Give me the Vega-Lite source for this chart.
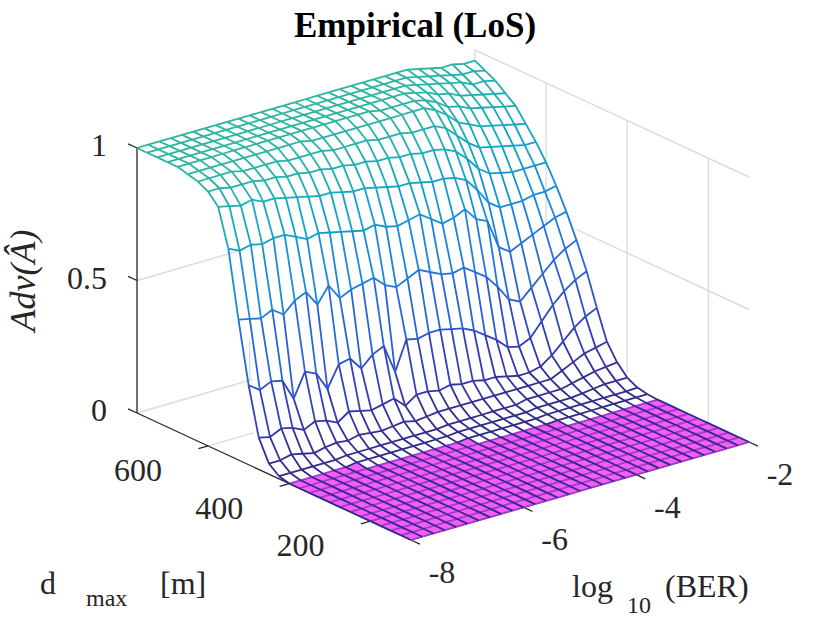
{
  "$schema": "https://vega.github.io/schema/vega-lite/v6.json",
  "width": 830,
  "height": 622,
  "autosize": {"type": "none"},
  "padding": 0,
  "background": "white",
  "config": {"view": {"stroke": null}},
  "datasets": {
    "box": [
      {"g": "grid", "ber": -2, "d": 100, "adv": 1, "ber2": -2, "d2": 775, "adv2": 1},
      {"g": "grid", "ber": -2, "d": 100, "adv": 0.5, "ber2": -2, "d2": 524, "adv2": 0.5},
      {"g": "grid", "ber": -2, "d": 200, "adv": 0, "ber2": -2, "d2": 200, "adv2": 1},
      {"g": "grid", "ber": -2, "d": 400, "adv": 0.05, "ber2": -2, "d2": 400, "adv2": 1},
      {"g": "grid", "ber": -2, "d": 600, "adv": 0.46, "ber2": -2, "d2": 600, "adv2": 1},
      {"g": "grid", "ber": -2, "d": 775, "adv": 0.95, "ber2": -2, "d2": 775, "adv2": 1},
      {"g": "grid", "ber": -8, "d": 775, "adv": 0, "ber2": -5.95, "d2": 775, "adv2": 0},
      {"g": "grid", "ber": -8, "d": 775, "adv": 0.5, "ber2": -6.2, "d2": 775, "adv2": 0.5},
      {"g": "grid", "ber": -6, "d": 775, "adv": 0, "ber2": -6, "d2": 775, "adv2": 0.15},
      {"g": "grid", "ber": -8, "d": 600, "adv": 0, "ber2": -7.2, "d2": 600, "adv2": 0},
      {"g": "axis", "ber": -8, "d": 775, "adv": 0, "ber2": -8, "d2": 775, "adv2": 1},
      {"g": "axis", "ber": -8, "d": 100, "adv": 0, "ber2": -8, "d2": 775, "adv2": 0},
      {"g": "axis", "ber": -8, "d": 100, "adv": 0, "ber2": -2, "d2": 100, "adv2": 0},
      {"g": "axis", "ber": -8, "d": 775, "adv": 0, "ber2": -8, "d2": 797, "adv2": 0},
      {"g": "axis", "ber": -8, "d": 775, "adv": 0.5, "ber2": -8, "d2": 797, "adv2": 0.5},
      {"g": "axis", "ber": -8, "d": 775, "adv": 1, "ber2": -8, "d2": 797, "adv2": 1},
      {"g": "axis", "ber": -8, "d": 200, "adv": 0, "ber2": -8.17, "d2": 200, "adv2": 0},
      {"g": "axis", "ber": -8, "d": 400, "adv": 0, "ber2": -8.17, "d2": 400, "adv2": 0},
      {"g": "axis", "ber": -8, "d": 600, "adv": 0, "ber2": -8.17, "d2": 600, "adv2": 0},
      {"g": "axis", "ber": -8, "d": 100, "adv": 0, "ber2": -8, "d2": 78, "adv2": 0},
      {"g": "axis", "ber": -6, "d": 100, "adv": 0, "ber2": -6, "d2": 78, "adv2": 0},
      {"g": "axis", "ber": -4, "d": 100, "adv": 0, "ber2": -4, "d2": 78, "adv2": 0},
      {"g": "axis", "ber": -2, "d": 100, "adv": 0, "ber2": -2, "d2": 78, "adv2": 0}
    ],
    "labels": [
      {"g": "zt", "t": "0", "ber": -8, "d": 775, "adv": 0},
      {"g": "zt", "t": "0.5", "ber": -8, "d": 775, "adv": 0.5},
      {"g": "zt", "t": "1", "ber": -8, "d": 775, "adv": 1},
      {"g": "dt", "t": "200", "ber": -8, "d": 200, "adv": 0},
      {"g": "dt", "t": "400", "ber": -8, "d": 400, "adv": 0},
      {"g": "dt", "t": "600", "ber": -8, "d": 600, "adv": 0},
      {"g": "bt", "t": "-8", "ber": -8, "d": 100, "adv": 0},
      {"g": "bt", "t": "-6", "ber": -6, "d": 100, "adv": 0},
      {"g": "bt", "t": "-4", "ber": -4, "d": 100, "adv": 0},
      {"g": "bt", "t": "-2", "ber": -2, "d": 100, "adv": 0},
      {"g": "dT", "t": "d", "ber": -8, "d": 437.5, "adv": 0},
      {"g": "dS", "t": "max", "ber": -8, "d": 437.5, "adv": 0},
      {"g": "dU", "t": "[m]", "ber": -8, "d": 437.5, "adv": 0},
      {"g": "bT", "t": "log", "ber": -5, "d": 100, "adv": 0},
      {"g": "bS", "t": "10", "ber": -5, "d": 100, "adv": 0},
      {"g": "bU", "t": "(BER)", "ber": -5, "d": 100, "adv": 0},
      {"g": "zT", "t": "Adv(Â)", "ber": -8, "d": 775, "adv": 0.5},
      {"g": "title", "t": "Empirical (LoS)", "ber": -8, "d": 775, "adv": 1}
    ],
    "grid": [
      {"ber":-8,"d":100,"adv":0},{"ber":-8,"d":125,"adv":0},{"ber":-8,"d":150,"adv":0},{"ber":-8,"d":175,"adv":0},{"ber":-8,"d":200,"adv":0},{"ber":-8,"d":225,"adv":0},{"ber":-8,"d":250,"adv":0},{"ber":-8,"d":275,"adv":0},{"ber":-8,"d":300,"adv":0},{"ber":-8,"d":325,"adv":0},
      {"ber":-8,"d":350,"adv":0},{"ber":-8,"d":375,"adv":0},{"ber":-8,"d":400,"adv":0},{"ber":-8,"d":425,"adv":0.01},{"ber":-8,"d":450,"adv":0.04},{"ber":-8,"d":475,"adv":0.12},{"ber":-8,"d":500,"adv":0.3},{"ber":-8,"d":525,"adv":0.53},{"ber":-8,"d":550,"adv":0.78},{"ber":-8,"d":575,"adv":0.92},{"ber":-8,"d":600,"adv":0.96},{"ber":-8,"d":625,"adv":0.98},{"ber":-8,"d":650,"adv":0.99},{"ber":-8,"d":675,"adv":1},{"ber":-8,"d":700,"adv":1},{"ber":-8,"d":725,"adv":1},{"ber":-8,"d":750,"adv":1},{"ber":-8,"d":775,"adv":1},
      {"ber":-7.8,"d":100,"adv":0},{"ber":-7.8,"d":125,"adv":0},{"ber":-7.8,"d":150,"adv":0},{"ber":-7.8,"d":175,"adv":0},{"ber":-7.8,"d":200,"adv":0},{"ber":-7.8,"d":225,"adv":0},{"ber":-7.8,"d":250,"adv":0},{"ber":-7.8,"d":275,"adv":0},{"ber":-7.8,"d":300,"adv":0},{"ber":-7.8,"d":325,"adv":0},
      {"ber":-7.8,"d":350,"adv":0},{"ber":-7.8,"d":375,"adv":0},{"ber":-7.8,"d":400,"adv":0},{"ber":-7.8,"d":425,"adv":0.01},{"ber":-7.8,"d":450,"adv":0.04},{"ber":-7.8,"d":475,"adv":0.11},{"ber":-7.8,"d":500,"adv":0.27},{"ber":-7.8,"d":525,"adv":0.52},{"ber":-7.8,"d":550,"adv":0.76},{"ber":-7.8,"d":575,"adv":0.91},{"ber":-7.8,"d":600,"adv":0.96},{"ber":-7.8,"d":625,"adv":0.98},{"ber":-7.8,"d":650,"adv":0.99},{"ber":-7.8,"d":675,"adv":1},{"ber":-7.8,"d":700,"adv":1},{"ber":-7.8,"d":725,"adv":1},{"ber":-7.8,"d":750,"adv":1},{"ber":-7.8,"d":775,"adv":1},
      {"ber":-7.6,"d":100,"adv":0},{"ber":-7.6,"d":125,"adv":0},{"ber":-7.6,"d":150,"adv":0},{"ber":-7.6,"d":175,"adv":0},{"ber":-7.6,"d":200,"adv":0},{"ber":-7.6,"d":225,"adv":0},{"ber":-7.6,"d":250,"adv":0},{"ber":-7.6,"d":275,"adv":0},{"ber":-7.6,"d":300,"adv":0},{"ber":-7.6,"d":325,"adv":0},
      {"ber":-7.6,"d":350,"adv":0},{"ber":-7.6,"d":375,"adv":0},{"ber":-7.6,"d":400,"adv":0},{"ber":-7.6,"d":425,"adv":0.01},{"ber":-7.6,"d":450,"adv":0.05},{"ber":-7.6,"d":475,"adv":0.13},{"ber":-7.6,"d":500,"adv":0.29},{"ber":-7.6,"d":525,"adv":0.51},{"ber":-7.6,"d":550,"adv":0.77},{"ber":-7.6,"d":575,"adv":0.9},{"ber":-7.6,"d":600,"adv":0.95},{"ber":-7.6,"d":625,"adv":0.98},{"ber":-7.6,"d":650,"adv":0.99},{"ber":-7.6,"d":675,"adv":1},{"ber":-7.6,"d":700,"adv":1},{"ber":-7.6,"d":725,"adv":1},{"ber":-7.6,"d":750,"adv":1},{"ber":-7.6,"d":775,"adv":1},
      {"ber":-7.4,"d":100,"adv":0},{"ber":-7.4,"d":125,"adv":0},{"ber":-7.4,"d":150,"adv":0},{"ber":-7.4,"d":175,"adv":0},{"ber":-7.4,"d":200,"adv":0},{"ber":-7.4,"d":225,"adv":0},{"ber":-7.4,"d":250,"adv":0},{"ber":-7.4,"d":275,"adv":0},{"ber":-7.4,"d":300,"adv":0},{"ber":-7.4,"d":325,"adv":0},
      {"ber":-7.4,"d":350,"adv":0},{"ber":-7.4,"d":375,"adv":0},{"ber":-7.4,"d":400,"adv":0},{"ber":-7.4,"d":425,"adv":0.01},{"ber":-7.4,"d":450,"adv":0.04},{"ber":-7.4,"d":475,"adv":0.12},{"ber":-7.4,"d":500,"adv":0.28},{"ber":-7.4,"d":525,"adv":0.53},{"ber":-7.4,"d":550,"adv":0.76},{"ber":-7.4,"d":575,"adv":0.91},{"ber":-7.4,"d":600,"adv":0.95},{"ber":-7.4,"d":625,"adv":0.98},{"ber":-7.4,"d":650,"adv":0.99},{"ber":-7.4,"d":675,"adv":1},{"ber":-7.4,"d":700,"adv":1},{"ber":-7.4,"d":725,"adv":1},{"ber":-7.4,"d":750,"adv":1},{"ber":-7.4,"d":775,"adv":1},
      {"ber":-7.2,"d":100,"adv":0},{"ber":-7.2,"d":125,"adv":0},{"ber":-7.2,"d":150,"adv":0},{"ber":-7.2,"d":175,"adv":0},{"ber":-7.2,"d":200,"adv":0},{"ber":-7.2,"d":225,"adv":0},{"ber":-7.2,"d":250,"adv":0},{"ber":-7.2,"d":275,"adv":0},{"ber":-7.2,"d":300,"adv":0},{"ber":-7.2,"d":325,"adv":0},
      {"ber":-7.2,"d":350,"adv":0},{"ber":-7.2,"d":375,"adv":0},{"ber":-7.2,"d":400,"adv":0},{"ber":-7.2,"d":425,"adv":0.01},{"ber":-7.2,"d":450,"adv":0.03},{"ber":-7.2,"d":475,"adv":0.1},{"ber":-7.2,"d":500,"adv":0.2},{"ber":-7.2,"d":525,"adv":0.5},{"ber":-7.2,"d":550,"adv":0.77},{"ber":-7.2,"d":575,"adv":0.89},{"ber":-7.2,"d":600,"adv":0.95},{"ber":-7.2,"d":625,"adv":0.97},{"ber":-7.2,"d":650,"adv":0.99},{"ber":-7.2,"d":675,"adv":1},{"ber":-7.2,"d":700,"adv":1},{"ber":-7.2,"d":725,"adv":1},{"ber":-7.2,"d":750,"adv":1},{"ber":-7.2,"d":775,"adv":1},
      {"ber":-7,"d":100,"adv":0},{"ber":-7,"d":125,"adv":0},{"ber":-7,"d":150,"adv":0},{"ber":-7,"d":175,"adv":0},{"ber":-7,"d":200,"adv":0},{"ber":-7,"d":225,"adv":0},{"ber":-7,"d":250,"adv":0},{"ber":-7,"d":275,"adv":0},{"ber":-7,"d":300,"adv":0},{"ber":-7,"d":325,"adv":0},
      {"ber":-7,"d":350,"adv":0},{"ber":-7,"d":375,"adv":0},{"ber":-7,"d":400,"adv":0},{"ber":-7,"d":425,"adv":0.01},{"ber":-7,"d":450,"adv":0.04},{"ber":-7,"d":475,"adv":0.12},{"ber":-7,"d":500,"adv":0.29},{"ber":-7,"d":525,"adv":0.54},{"ber":-7,"d":550,"adv":0.77},{"ber":-7,"d":575,"adv":0.89},{"ber":-7,"d":600,"adv":0.94},{"ber":-7,"d":625,"adv":0.97},{"ber":-7,"d":650,"adv":0.99},{"ber":-7,"d":675,"adv":1},{"ber":-7,"d":700,"adv":1},{"ber":-7,"d":725,"adv":1},{"ber":-7,"d":750,"adv":1},{"ber":-7,"d":775,"adv":1},
      {"ber":-6.8,"d":100,"adv":0},{"ber":-6.8,"d":125,"adv":0},{"ber":-6.8,"d":150,"adv":0},{"ber":-6.8,"d":175,"adv":0},{"ber":-6.8,"d":200,"adv":0},{"ber":-6.8,"d":225,"adv":0},{"ber":-6.8,"d":250,"adv":0},{"ber":-6.8,"d":275,"adv":0},{"ber":-6.8,"d":300,"adv":0},{"ber":-6.8,"d":325,"adv":0},
      {"ber":-6.8,"d":350,"adv":0},{"ber":-6.8,"d":375,"adv":0},{"ber":-6.8,"d":400,"adv":0.006},{"ber":-6.8,"d":425,"adv":0.015},{"ber":-6.8,"d":450,"adv":0.045},{"ber":-6.8,"d":475,"adv":0.11},{"ber":-6.8,"d":500,"adv":0.27},{"ber":-6.8,"d":525,"adv":0.56},{"ber":-6.8,"d":550,"adv":0.75},{"ber":-6.8,"d":575,"adv":0.88},{"ber":-6.8,"d":600,"adv":0.94},{"ber":-6.8,"d":625,"adv":0.97},{"ber":-6.8,"d":650,"adv":0.99},{"ber":-6.8,"d":675,"adv":1},{"ber":-6.8,"d":700,"adv":1},{"ber":-6.8,"d":725,"adv":1},{"ber":-6.8,"d":750,"adv":1},{"ber":-6.8,"d":775,"adv":1},
      {"ber":-6.6,"d":100,"adv":0},{"ber":-6.6,"d":125,"adv":0},{"ber":-6.6,"d":150,"adv":0},{"ber":-6.6,"d":175,"adv":0},{"ber":-6.6,"d":200,"adv":0},{"ber":-6.6,"d":225,"adv":0},{"ber":-6.6,"d":250,"adv":0},{"ber":-6.6,"d":275,"adv":0},{"ber":-6.6,"d":300,"adv":0},{"ber":-6.6,"d":325,"adv":0},
      {"ber":-6.6,"d":350,"adv":0},{"ber":-6.6,"d":375,"adv":0},{"ber":-6.6,"d":400,"adv":0.006},{"ber":-6.6,"d":425,"adv":0.015},{"ber":-6.6,"d":450,"adv":0.04},{"ber":-6.6,"d":475,"adv":0.09},{"ber":-6.6,"d":500,"adv":0.2},{"ber":-6.6,"d":525,"adv":0.5},{"ber":-6.6,"d":550,"adv":0.73},{"ber":-6.6,"d":575,"adv":0.87},{"ber":-6.6,"d":600,"adv":0.93},{"ber":-6.6,"d":625,"adv":0.97},{"ber":-6.6,"d":650,"adv":0.99},{"ber":-6.6,"d":675,"adv":1},{"ber":-6.6,"d":700,"adv":1},{"ber":-6.6,"d":725,"adv":1},{"ber":-6.6,"d":750,"adv":1},{"ber":-6.6,"d":775,"adv":1},
      {"ber":-6.4,"d":100,"adv":0},{"ber":-6.4,"d":125,"adv":0},{"ber":-6.4,"d":150,"adv":0},{"ber":-6.4,"d":175,"adv":0},{"ber":-6.4,"d":200,"adv":0},{"ber":-6.4,"d":225,"adv":0},{"ber":-6.4,"d":250,"adv":0},{"ber":-6.4,"d":275,"adv":0},{"ber":-6.4,"d":300,"adv":0},{"ber":-6.4,"d":325,"adv":0},
      {"ber":-6.4,"d":350,"adv":0},{"ber":-6.4,"d":375,"adv":0},{"ber":-6.4,"d":400,"adv":0.006},{"ber":-6.4,"d":425,"adv":0.015},{"ber":-6.4,"d":450,"adv":0.05},{"ber":-6.4,"d":475,"adv":0.12},{"ber":-6.4,"d":500,"adv":0.28},{"ber":-6.4,"d":525,"adv":0.56},{"ber":-6.4,"d":550,"adv":0.74},{"ber":-6.4,"d":575,"adv":0.86},{"ber":-6.4,"d":600,"adv":0.93},{"ber":-6.4,"d":625,"adv":0.96},{"ber":-6.4,"d":650,"adv":0.99},{"ber":-6.4,"d":675,"adv":1},{"ber":-6.4,"d":700,"adv":1},{"ber":-6.4,"d":725,"adv":1},{"ber":-6.4,"d":750,"adv":1},{"ber":-6.4,"d":775,"adv":1},
      {"ber":-6.2,"d":100,"adv":0},{"ber":-6.2,"d":125,"adv":0},{"ber":-6.2,"d":150,"adv":0},{"ber":-6.2,"d":175,"adv":0},{"ber":-6.2,"d":200,"adv":0},{"ber":-6.2,"d":225,"adv":0},{"ber":-6.2,"d":250,"adv":0},{"ber":-6.2,"d":275,"adv":0},{"ber":-6.2,"d":300,"adv":0},{"ber":-6.2,"d":325,"adv":0},
      {"ber":-6.2,"d":350,"adv":0},{"ber":-6.2,"d":375,"adv":0},{"ber":-6.2,"d":400,"adv":0.006},{"ber":-6.2,"d":425,"adv":0.015},{"ber":-6.2,"d":450,"adv":0.045},{"ber":-6.2,"d":475,"adv":0.11},{"ber":-6.2,"d":500,"adv":0.29},{"ber":-6.2,"d":525,"adv":0.5},{"ber":-6.2,"d":550,"adv":0.73},{"ber":-6.2,"d":575,"adv":0.85},{"ber":-6.2,"d":600,"adv":0.92},{"ber":-6.2,"d":625,"adv":0.96},{"ber":-6.2,"d":650,"adv":0.99},{"ber":-6.2,"d":675,"adv":1},{"ber":-6.2,"d":700,"adv":1},{"ber":-6.2,"d":725,"adv":1},{"ber":-6.2,"d":750,"adv":1},{"ber":-6.2,"d":775,"adv":1},
      {"ber":-6,"d":100,"adv":0},{"ber":-6,"d":125,"adv":0},{"ber":-6,"d":150,"adv":0},{"ber":-6,"d":175,"adv":0},{"ber":-6,"d":200,"adv":0},{"ber":-6,"d":225,"adv":0},{"ber":-6,"d":250,"adv":0},{"ber":-6,"d":275,"adv":0},{"ber":-6,"d":300,"adv":0},{"ber":-6,"d":325,"adv":0},
      {"ber":-6,"d":350,"adv":0},{"ber":-6,"d":375,"adv":0},{"ber":-6,"d":400,"adv":0.006},{"ber":-6,"d":425,"adv":0.015},{"ber":-6,"d":450,"adv":0.04},{"ber":-6,"d":475,"adv":0.1},{"ber":-6,"d":500,"adv":0.24},{"ber":-6,"d":525,"adv":0.52},{"ber":-6,"d":550,"adv":0.72},{"ber":-6,"d":575,"adv":0.85},{"ber":-6,"d":600,"adv":0.92},{"ber":-6,"d":625,"adv":0.96},{"ber":-6,"d":650,"adv":0.99},{"ber":-6,"d":675,"adv":1},{"ber":-6,"d":700,"adv":1},{"ber":-6,"d":725,"adv":1},{"ber":-6,"d":750,"adv":1},{"ber":-6,"d":775,"adv":1},
      {"ber":-5.8,"d":100,"adv":0},{"ber":-5.8,"d":125,"adv":0},{"ber":-5.8,"d":150,"adv":0},{"ber":-5.8,"d":175,"adv":0},{"ber":-5.8,"d":200,"adv":0},{"ber":-5.8,"d":225,"adv":0},{"ber":-5.8,"d":250,"adv":0},{"ber":-5.8,"d":275,"adv":0},{"ber":-5.8,"d":300,"adv":0},{"ber":-5.8,"d":325,"adv":0},
      {"ber":-5.8,"d":350,"adv":0},{"ber":-5.8,"d":375,"adv":0},{"ber":-5.8,"d":400,"adv":0.006},{"ber":-5.8,"d":425,"adv":0.015},{"ber":-5.8,"d":450,"adv":0.045},{"ber":-5.8,"d":475,"adv":0.11},{"ber":-5.8,"d":500,"adv":0.28},{"ber":-5.8,"d":525,"adv":0.53},{"ber":-5.8,"d":550,"adv":0.71},{"ber":-5.8,"d":575,"adv":0.84},{"ber":-5.8,"d":600,"adv":0.91},{"ber":-5.8,"d":625,"adv":0.96},{"ber":-5.8,"d":650,"adv":0.98},{"ber":-5.8,"d":675,"adv":1},{"ber":-5.8,"d":700,"adv":1},{"ber":-5.8,"d":725,"adv":1},{"ber":-5.8,"d":750,"adv":1},{"ber":-5.8,"d":775,"adv":1},
      {"ber":-5.6,"d":100,"adv":0},{"ber":-5.6,"d":125,"adv":0},{"ber":-5.6,"d":150,"adv":0},{"ber":-5.6,"d":175,"adv":0},{"ber":-5.6,"d":200,"adv":0},{"ber":-5.6,"d":225,"adv":0},{"ber":-5.6,"d":250,"adv":0},{"ber":-5.6,"d":275,"adv":0},{"ber":-5.6,"d":300,"adv":0},{"ber":-5.6,"d":325,"adv":0},
      {"ber":-5.6,"d":350,"adv":0},{"ber":-5.6,"d":375,"adv":0},{"ber":-5.6,"d":400,"adv":0.006},{"ber":-5.6,"d":425,"adv":0.015},{"ber":-5.6,"d":450,"adv":0.05},{"ber":-5.6,"d":475,"adv":0.12},{"ber":-5.6,"d":500,"adv":0.3},{"ber":-5.6,"d":525,"adv":0.54},{"ber":-5.6,"d":550,"adv":0.7},{"ber":-5.6,"d":575,"adv":0.83},{"ber":-5.6,"d":600,"adv":0.91},{"ber":-5.6,"d":625,"adv":0.95},{"ber":-5.6,"d":650,"adv":0.98},{"ber":-5.6,"d":675,"adv":1},{"ber":-5.6,"d":700,"adv":1},{"ber":-5.6,"d":725,"adv":1},{"ber":-5.6,"d":750,"adv":1},{"ber":-5.6,"d":775,"adv":1},
      {"ber":-5.4,"d":100,"adv":0},{"ber":-5.4,"d":125,"adv":0},{"ber":-5.4,"d":150,"adv":0},{"ber":-5.4,"d":175,"adv":0},{"ber":-5.4,"d":200,"adv":0},{"ber":-5.4,"d":225,"adv":0},{"ber":-5.4,"d":250,"adv":0},{"ber":-5.4,"d":275,"adv":0},{"ber":-5.4,"d":300,"adv":0},{"ber":-5.4,"d":325,"adv":0},
      {"ber":-5.4,"d":350,"adv":0},{"ber":-5.4,"d":375,"adv":0},{"ber":-5.4,"d":400,"adv":0.006},{"ber":-5.4,"d":425,"adv":0.015},{"ber":-5.4,"d":450,"adv":0.04},{"ber":-5.4,"d":475,"adv":0.08},{"ber":-5.4,"d":500,"adv":0.19},{"ber":-5.4,"d":525,"adv":0.5},{"ber":-5.4,"d":550,"adv":0.71},{"ber":-5.4,"d":575,"adv":0.83},{"ber":-5.4,"d":600,"adv":0.9},{"ber":-5.4,"d":625,"adv":0.95},{"ber":-5.4,"d":650,"adv":0.98},{"ber":-5.4,"d":675,"adv":1},{"ber":-5.4,"d":700,"adv":1},{"ber":-5.4,"d":725,"adv":1},{"ber":-5.4,"d":750,"adv":1},{"ber":-5.4,"d":775,"adv":1},
      {"ber":-5.2,"d":100,"adv":0},{"ber":-5.2,"d":125,"adv":0},{"ber":-5.2,"d":150,"adv":0},{"ber":-5.2,"d":175,"adv":0},{"ber":-5.2,"d":200,"adv":0},{"ber":-5.2,"d":225,"adv":0},{"ber":-5.2,"d":250,"adv":0},{"ber":-5.2,"d":275,"adv":0},{"ber":-5.2,"d":300,"adv":0},{"ber":-5.2,"d":325,"adv":0},
      {"ber":-5.2,"d":350,"adv":0},{"ber":-5.2,"d":375,"adv":0},{"ber":-5.2,"d":400,"adv":0.006},{"ber":-5.2,"d":425,"adv":0.015},{"ber":-5.2,"d":450,"adv":0.045},{"ber":-5.2,"d":475,"adv":0.11},{"ber":-5.2,"d":500,"adv":0.3},{"ber":-5.2,"d":525,"adv":0.48},{"ber":-5.2,"d":550,"adv":0.69},{"ber":-5.2,"d":575,"adv":0.82},{"ber":-5.2,"d":600,"adv":0.9},{"ber":-5.2,"d":625,"adv":0.95},{"ber":-5.2,"d":650,"adv":0.98},{"ber":-5.2,"d":675,"adv":1},{"ber":-5.2,"d":700,"adv":1},{"ber":-5.2,"d":725,"adv":1},{"ber":-5.2,"d":750,"adv":1},{"ber":-5.2,"d":775,"adv":1},
      {"ber":-5,"d":100,"adv":0},{"ber":-5,"d":125,"adv":0},{"ber":-5,"d":150,"adv":0},{"ber":-5,"d":175,"adv":0},{"ber":-5,"d":200,"adv":0},{"ber":-5,"d":225,"adv":0},{"ber":-5,"d":250,"adv":0},{"ber":-5,"d":275,"adv":0},{"ber":-5,"d":300,"adv":0},{"ber":-5,"d":325,"adv":0},
      {"ber":-5,"d":350,"adv":0},{"ber":-5,"d":375,"adv":0.004},{"ber":-5,"d":400,"adv":0.01},{"ber":-5,"d":425,"adv":0.02},{"ber":-5,"d":450,"adv":0.05},{"ber":-5,"d":475,"adv":0.11},{"ber":-5,"d":500,"adv":0.29},{"ber":-5,"d":525,"adv":0.5},{"ber":-5,"d":550,"adv":0.68},{"ber":-5,"d":575,"adv":0.81},{"ber":-5,"d":600,"adv":0.89},{"ber":-5,"d":625,"adv":0.95},{"ber":-5,"d":650,"adv":0.98},{"ber":-5,"d":675,"adv":1},{"ber":-5,"d":700,"adv":1},{"ber":-5,"d":725,"adv":1},{"ber":-5,"d":750,"adv":1},{"ber":-5,"d":775,"adv":1},
      {"ber":-4.8,"d":100,"adv":0},{"ber":-4.8,"d":125,"adv":0},{"ber":-4.8,"d":150,"adv":0},{"ber":-4.8,"d":175,"adv":0},{"ber":-4.8,"d":200,"adv":0},{"ber":-4.8,"d":225,"adv":0},{"ber":-4.8,"d":250,"adv":0},{"ber":-4.8,"d":275,"adv":0},{"ber":-4.8,"d":300,"adv":0},{"ber":-4.8,"d":325,"adv":0},
      {"ber":-4.8,"d":350,"adv":0},{"ber":-4.8,"d":375,"adv":0.004},{"ber":-4.8,"d":400,"adv":0.01},{"ber":-4.8,"d":425,"adv":0.02},{"ber":-4.8,"d":450,"adv":0.05},{"ber":-4.8,"d":475,"adv":0.1},{"ber":-4.8,"d":500,"adv":0.3},{"ber":-4.8,"d":525,"adv":0.52},{"ber":-4.8,"d":550,"adv":0.69},{"ber":-4.8,"d":575,"adv":0.8},{"ber":-4.8,"d":600,"adv":0.89},{"ber":-4.8,"d":625,"adv":0.94},{"ber":-4.8,"d":650,"adv":0.98},{"ber":-4.8,"d":675,"adv":1},{"ber":-4.8,"d":700,"adv":1},{"ber":-4.8,"d":725,"adv":1},{"ber":-4.8,"d":750,"adv":1},{"ber":-4.8,"d":775,"adv":1},
      {"ber":-4.6,"d":100,"adv":0},{"ber":-4.6,"d":125,"adv":0},{"ber":-4.6,"d":150,"adv":0},{"ber":-4.6,"d":175,"adv":0},{"ber":-4.6,"d":200,"adv":0},{"ber":-4.6,"d":225,"adv":0},{"ber":-4.6,"d":250,"adv":0},{"ber":-4.6,"d":275,"adv":0},{"ber":-4.6,"d":300,"adv":0},{"ber":-4.6,"d":325,"adv":0},
      {"ber":-4.6,"d":350,"adv":0},{"ber":-4.6,"d":375,"adv":0.004},{"ber":-4.6,"d":400,"adv":0.01},{"ber":-4.6,"d":425,"adv":0.02},{"ber":-4.6,"d":450,"adv":0.05},{"ber":-4.6,"d":475,"adv":0.11},{"ber":-4.6,"d":500,"adv":0.3},{"ber":-4.6,"d":525,"adv":0.5},{"ber":-4.6,"d":550,"adv":0.7},{"ber":-4.6,"d":575,"adv":0.8},{"ber":-4.6,"d":600,"adv":0.88},{"ber":-4.6,"d":625,"adv":0.94},{"ber":-4.6,"d":650,"adv":0.98},{"ber":-4.6,"d":675,"adv":1},{"ber":-4.6,"d":700,"adv":1},{"ber":-4.6,"d":725,"adv":1},{"ber":-4.6,"d":750,"adv":1},{"ber":-4.6,"d":775,"adv":1},
      {"ber":-4.4,"d":100,"adv":0},{"ber":-4.4,"d":125,"adv":0},{"ber":-4.4,"d":150,"adv":0},{"ber":-4.4,"d":175,"adv":0},{"ber":-4.4,"d":200,"adv":0},{"ber":-4.4,"d":225,"adv":0},{"ber":-4.4,"d":250,"adv":0},{"ber":-4.4,"d":275,"adv":0},{"ber":-4.4,"d":300,"adv":0},{"ber":-4.4,"d":325,"adv":0},
      {"ber":-4.4,"d":350,"adv":0},{"ber":-4.4,"d":375,"adv":0.004},{"ber":-4.4,"d":400,"adv":0.01},{"ber":-4.4,"d":425,"adv":0.02},{"ber":-4.4,"d":450,"adv":0.05},{"ber":-4.4,"d":475,"adv":0.1},{"ber":-4.4,"d":500,"adv":0.29},{"ber":-4.4,"d":525,"adv":0.48},{"ber":-4.4,"d":550,"adv":0.67},{"ber":-4.4,"d":575,"adv":0.79},{"ber":-4.4,"d":600,"adv":0.88},{"ber":-4.4,"d":625,"adv":0.94},{"ber":-4.4,"d":650,"adv":0.98},{"ber":-4.4,"d":675,"adv":0.99},{"ber":-4.4,"d":700,"adv":1},{"ber":-4.4,"d":725,"adv":1},{"ber":-4.4,"d":750,"adv":1},{"ber":-4.4,"d":775,"adv":1},
      {"ber":-4.2,"d":100,"adv":0},{"ber":-4.2,"d":125,"adv":0},{"ber":-4.2,"d":150,"adv":0},{"ber":-4.2,"d":175,"adv":0},{"ber":-4.2,"d":200,"adv":0},{"ber":-4.2,"d":225,"adv":0},{"ber":-4.2,"d":250,"adv":0},{"ber":-4.2,"d":275,"adv":0},{"ber":-4.2,"d":300,"adv":0},{"ber":-4.2,"d":325,"adv":0},
      {"ber":-4.2,"d":350,"adv":0},{"ber":-4.2,"d":375,"adv":0.004},{"ber":-4.2,"d":400,"adv":0.01},{"ber":-4.2,"d":425,"adv":0.02},{"ber":-4.2,"d":450,"adv":0.05},{"ber":-4.2,"d":475,"adv":0.1},{"ber":-4.2,"d":500,"adv":0.28},{"ber":-4.2,"d":525,"adv":0.47},{"ber":-4.2,"d":550,"adv":0.64},{"ber":-4.2,"d":575,"adv":0.78},{"ber":-4.2,"d":600,"adv":0.87},{"ber":-4.2,"d":625,"adv":0.93},{"ber":-4.2,"d":650,"adv":0.98},{"ber":-4.2,"d":675,"adv":0.99},{"ber":-4.2,"d":700,"adv":1},{"ber":-4.2,"d":725,"adv":1},{"ber":-4.2,"d":750,"adv":1},{"ber":-4.2,"d":775,"adv":1},
      {"ber":-4,"d":100,"adv":0},{"ber":-4,"d":125,"adv":0},{"ber":-4,"d":150,"adv":0},{"ber":-4,"d":175,"adv":0},{"ber":-4,"d":200,"adv":0},{"ber":-4,"d":225,"adv":0},{"ber":-4,"d":250,"adv":0},{"ber":-4,"d":275,"adv":0},{"ber":-4,"d":300,"adv":0},{"ber":-4,"d":325,"adv":0},
      {"ber":-4,"d":350,"adv":0},{"ber":-4,"d":375,"adv":0.004},{"ber":-4,"d":400,"adv":0.01},{"ber":-4,"d":425,"adv":0.02},{"ber":-4,"d":450,"adv":0.05},{"ber":-4,"d":475,"adv":0.09},{"ber":-4,"d":500,"adv":0.26},{"ber":-4,"d":525,"adv":0.48},{"ber":-4,"d":550,"adv":0.65},{"ber":-4,"d":575,"adv":0.78},{"ber":-4,"d":600,"adv":0.87},{"ber":-4,"d":625,"adv":0.93},{"ber":-4,"d":650,"adv":0.98},{"ber":-4,"d":675,"adv":0.99},{"ber":-4,"d":700,"adv":1},{"ber":-4,"d":725,"adv":1},{"ber":-4,"d":750,"adv":1},{"ber":-4,"d":775,"adv":1},
      {"ber":-3.8,"d":100,"adv":0},{"ber":-3.8,"d":125,"adv":0},{"ber":-3.8,"d":150,"adv":0},{"ber":-3.8,"d":175,"adv":0},{"ber":-3.8,"d":200,"adv":0},{"ber":-3.8,"d":225,"adv":0},{"ber":-3.8,"d":250,"adv":0},{"ber":-3.8,"d":275,"adv":0},{"ber":-3.8,"d":300,"adv":0},{"ber":-3.8,"d":325,"adv":0},
      {"ber":-3.8,"d":350,"adv":0},{"ber":-3.8,"d":375,"adv":0.004},{"ber":-3.8,"d":400,"adv":0.01},{"ber":-3.8,"d":425,"adv":0.02},{"ber":-3.8,"d":450,"adv":0.05},{"ber":-3.8,"d":475,"adv":0.09},{"ber":-3.8,"d":500,"adv":0.23},{"ber":-3.8,"d":525,"adv":0.45},{"ber":-3.8,"d":550,"adv":0.67},{"ber":-3.8,"d":575,"adv":0.77},{"ber":-3.8,"d":600,"adv":0.86},{"ber":-3.8,"d":625,"adv":0.93},{"ber":-3.8,"d":650,"adv":0.98},{"ber":-3.8,"d":675,"adv":0.99},{"ber":-3.8,"d":700,"adv":1},{"ber":-3.8,"d":725,"adv":1},{"ber":-3.8,"d":750,"adv":1},{"ber":-3.8,"d":775,"adv":1},
      {"ber":-3.6,"d":100,"adv":0},{"ber":-3.6,"d":125,"adv":0},{"ber":-3.6,"d":150,"adv":0},{"ber":-3.6,"d":175,"adv":0},{"ber":-3.6,"d":200,"adv":0},{"ber":-3.6,"d":225,"adv":0},{"ber":-3.6,"d":250,"adv":0},{"ber":-3.6,"d":275,"adv":0},{"ber":-3.6,"d":300,"adv":0},{"ber":-3.6,"d":325,"adv":0},
      {"ber":-3.6,"d":350,"adv":0.003},{"ber":-3.6,"d":375,"adv":0.008},{"ber":-3.6,"d":400,"adv":0.015},{"ber":-3.6,"d":425,"adv":0.03},{"ber":-3.6,"d":450,"adv":0.05},{"ber":-3.6,"d":475,"adv":0.08},{"ber":-3.6,"d":500,"adv":0.2},{"ber":-3.6,"d":525,"adv":0.42},{"ber":-3.6,"d":550,"adv":0.62},{"ber":-3.6,"d":575,"adv":0.75},{"ber":-3.6,"d":600,"adv":0.84},{"ber":-3.6,"d":625,"adv":0.91},{"ber":-3.6,"d":650,"adv":0.96},{"ber":-3.6,"d":675,"adv":0.98},{"ber":-3.6,"d":700,"adv":0.99},{"ber":-3.6,"d":725,"adv":1},{"ber":-3.6,"d":750,"adv":1},{"ber":-3.6,"d":775,"adv":1},
      {"ber":-3.4,"d":100,"adv":0},{"ber":-3.4,"d":125,"adv":0},{"ber":-3.4,"d":150,"adv":0},{"ber":-3.4,"d":175,"adv":0},{"ber":-3.4,"d":200,"adv":0},{"ber":-3.4,"d":225,"adv":0},{"ber":-3.4,"d":250,"adv":0},{"ber":-3.4,"d":275,"adv":0},{"ber":-3.4,"d":300,"adv":0},{"ber":-3.4,"d":325,"adv":0},
      {"ber":-3.4,"d":350,"adv":0.003},{"ber":-3.4,"d":375,"adv":0.008},{"ber":-3.4,"d":400,"adv":0.015},{"ber":-3.4,"d":425,"adv":0.03},{"ber":-3.4,"d":450,"adv":0.05},{"ber":-3.4,"d":475,"adv":0.07},{"ber":-3.4,"d":500,"adv":0.16},{"ber":-3.4,"d":525,"adv":0.37},{"ber":-3.4,"d":550,"adv":0.6},{"ber":-3.4,"d":575,"adv":0.7},{"ber":-3.4,"d":600,"adv":0.8},{"ber":-3.4,"d":625,"adv":0.87},{"ber":-3.4,"d":650,"adv":0.93},{"ber":-3.4,"d":675,"adv":0.96},{"ber":-3.4,"d":700,"adv":0.98},{"ber":-3.4,"d":725,"adv":0.99},{"ber":-3.4,"d":750,"adv":1},{"ber":-3.4,"d":775,"adv":1},
      {"ber":-3.2,"d":100,"adv":0},{"ber":-3.2,"d":125,"adv":0},{"ber":-3.2,"d":150,"adv":0},{"ber":-3.2,"d":175,"adv":0},{"ber":-3.2,"d":200,"adv":0},{"ber":-3.2,"d":225,"adv":0},{"ber":-3.2,"d":250,"adv":0},{"ber":-3.2,"d":275,"adv":0},{"ber":-3.2,"d":300,"adv":0},{"ber":-3.2,"d":325,"adv":0},
      {"ber":-3.2,"d":350,"adv":0.003},{"ber":-3.2,"d":375,"adv":0.008},{"ber":-3.2,"d":400,"adv":0.015},{"ber":-3.2,"d":425,"adv":0.03},{"ber":-3.2,"d":450,"adv":0.05},{"ber":-3.2,"d":475,"adv":0.07},{"ber":-3.2,"d":500,"adv":0.15},{"ber":-3.2,"d":525,"adv":0.31},{"ber":-3.2,"d":550,"adv":0.49},{"ber":-3.2,"d":575,"adv":0.64},{"ber":-3.2,"d":600,"adv":0.75},{"ber":-3.2,"d":625,"adv":0.83},{"ber":-3.2,"d":650,"adv":0.89},{"ber":-3.2,"d":675,"adv":0.93},{"ber":-3.2,"d":700,"adv":0.96},{"ber":-3.2,"d":725,"adv":0.98},{"ber":-3.2,"d":750,"adv":0.99},{"ber":-3.2,"d":775,"adv":1},
      {"ber":-3,"d":100,"adv":0},{"ber":-3,"d":125,"adv":0},{"ber":-3,"d":150,"adv":0},{"ber":-3,"d":175,"adv":0},{"ber":-3,"d":200,"adv":0},{"ber":-3,"d":225,"adv":0},{"ber":-3,"d":250,"adv":0},{"ber":-3,"d":275,"adv":0},{"ber":-3,"d":300,"adv":0},{"ber":-3,"d":325,"adv":0},
      {"ber":-3,"d":350,"adv":0.003},{"ber":-3,"d":375,"adv":0.008},{"ber":-3,"d":400,"adv":0.015},{"ber":-3,"d":425,"adv":0.03},{"ber":-3,"d":450,"adv":0.05},{"ber":-3,"d":475,"adv":0.08},{"ber":-3,"d":500,"adv":0.17},{"ber":-3,"d":525,"adv":0.29},{"ber":-3,"d":550,"adv":0.46},{"ber":-3,"d":575,"adv":0.61},{"ber":-3,"d":600,"adv":0.72},{"ber":-3,"d":625,"adv":0.8},{"ber":-3,"d":650,"adv":0.87},{"ber":-3,"d":675,"adv":0.92},{"ber":-3,"d":700,"adv":0.95},{"ber":-3,"d":725,"adv":0.97},{"ber":-3,"d":750,"adv":0.98},{"ber":-3,"d":775,"adv":0.99},
      {"ber":-2.8,"d":100,"adv":0},{"ber":-2.8,"d":125,"adv":0},{"ber":-2.8,"d":150,"adv":0},{"ber":-2.8,"d":175,"adv":0},{"ber":-2.8,"d":200,"adv":0},{"ber":-2.8,"d":225,"adv":0},{"ber":-2.8,"d":250,"adv":0},{"ber":-2.8,"d":275,"adv":0},{"ber":-2.8,"d":300,"adv":0},{"ber":-2.8,"d":325,"adv":0},
      {"ber":-2.8,"d":350,"adv":0.003},{"ber":-2.8,"d":375,"adv":0.008},{"ber":-2.8,"d":400,"adv":0.02},{"ber":-2.8,"d":425,"adv":0.04},{"ber":-2.8,"d":450,"adv":0.07},{"ber":-2.8,"d":475,"adv":0.11},{"ber":-2.8,"d":500,"adv":0.22},{"ber":-2.8,"d":525,"adv":0.33},{"ber":-2.8,"d":550,"adv":0.48},{"ber":-2.8,"d":575,"adv":0.61},{"ber":-2.8,"d":600,"adv":0.71},{"ber":-2.8,"d":625,"adv":0.79},{"ber":-2.8,"d":650,"adv":0.85},{"ber":-2.8,"d":675,"adv":0.9},{"ber":-2.8,"d":700,"adv":0.93},{"ber":-2.8,"d":725,"adv":0.96},{"ber":-2.8,"d":750,"adv":0.97},{"ber":-2.8,"d":775,"adv":0.98},
      {"ber":-2.6,"d":100,"adv":0},{"ber":-2.6,"d":125,"adv":0},{"ber":-2.6,"d":150,"adv":0},{"ber":-2.6,"d":175,"adv":0},{"ber":-2.6,"d":200,"adv":0},{"ber":-2.6,"d":225,"adv":0},{"ber":-2.6,"d":250,"adv":0},{"ber":-2.6,"d":275,"adv":0},{"ber":-2.6,"d":300,"adv":0},{"ber":-2.6,"d":325,"adv":0},
      {"ber":-2.6,"d":350,"adv":0.003},{"ber":-2.6,"d":375,"adv":0.008},{"ber":-2.6,"d":400,"adv":0.025},{"ber":-2.6,"d":425,"adv":0.05},{"ber":-2.6,"d":450,"adv":0.09},{"ber":-2.6,"d":475,"adv":0.15},{"ber":-2.6,"d":500,"adv":0.27},{"ber":-2.6,"d":525,"adv":0.37},{"ber":-2.6,"d":550,"adv":0.5},{"ber":-2.6,"d":575,"adv":0.61},{"ber":-2.6,"d":600,"adv":0.7},{"ber":-2.6,"d":625,"adv":0.78},{"ber":-2.6,"d":650,"adv":0.84},{"ber":-2.6,"d":675,"adv":0.89},{"ber":-2.6,"d":700,"adv":0.92},{"ber":-2.6,"d":725,"adv":0.95},{"ber":-2.6,"d":750,"adv":0.96},{"ber":-2.6,"d":775,"adv":0.97},
      {"ber":-2.4,"d":100,"adv":0},{"ber":-2.4,"d":125,"adv":0},{"ber":-2.4,"d":150,"adv":0},{"ber":-2.4,"d":175,"adv":0},{"ber":-2.4,"d":200,"adv":0},{"ber":-2.4,"d":225,"adv":0},{"ber":-2.4,"d":250,"adv":0},{"ber":-2.4,"d":275,"adv":0},{"ber":-2.4,"d":300,"adv":0},{"ber":-2.4,"d":325,"adv":0},
      {"ber":-2.4,"d":350,"adv":0.003},{"ber":-2.4,"d":375,"adv":0.008},{"ber":-2.4,"d":400,"adv":0.03},{"ber":-2.4,"d":425,"adv":0.06},{"ber":-2.4,"d":450,"adv":0.11},{"ber":-2.4,"d":475,"adv":0.19},{"ber":-2.4,"d":500,"adv":0.31},{"ber":-2.4,"d":525,"adv":0.41},{"ber":-2.4,"d":550,"adv":0.52},{"ber":-2.4,"d":575,"adv":0.62},{"ber":-2.4,"d":600,"adv":0.7},{"ber":-2.4,"d":625,"adv":0.77},{"ber":-2.4,"d":650,"adv":0.83},{"ber":-2.4,"d":675,"adv":0.88},{"ber":-2.4,"d":700,"adv":0.91},{"ber":-2.4,"d":725,"adv":0.93},{"ber":-2.4,"d":750,"adv":0.95},{"ber":-2.4,"d":775,"adv":0.97},
      {"ber":-2.2,"d":100,"adv":0},{"ber":-2.2,"d":125,"adv":0},{"ber":-2.2,"d":150,"adv":0},{"ber":-2.2,"d":175,"adv":0},{"ber":-2.2,"d":200,"adv":0},{"ber":-2.2,"d":225,"adv":0},{"ber":-2.2,"d":250,"adv":0},{"ber":-2.2,"d":275,"adv":0},{"ber":-2.2,"d":300,"adv":0},{"ber":-2.2,"d":325,"adv":0},
      {"ber":-2.2,"d":350,"adv":0.003},{"ber":-2.2,"d":375,"adv":0.008},{"ber":-2.2,"d":400,"adv":0.03},{"ber":-2.2,"d":425,"adv":0.065},{"ber":-2.2,"d":450,"adv":0.12},{"ber":-2.2,"d":475,"adv":0.22},{"ber":-2.2,"d":500,"adv":0.34},{"ber":-2.2,"d":525,"adv":0.44},{"ber":-2.2,"d":550,"adv":0.54},{"ber":-2.2,"d":575,"adv":0.62},{"ber":-2.2,"d":600,"adv":0.7},{"ber":-2.2,"d":625,"adv":0.76},{"ber":-2.2,"d":650,"adv":0.82},{"ber":-2.2,"d":675,"adv":0.87},{"ber":-2.2,"d":700,"adv":0.9},{"ber":-2.2,"d":725,"adv":0.93},{"ber":-2.2,"d":750,"adv":0.95},{"ber":-2.2,"d":775,"adv":0.96},
      {"ber":-2,"d":100,"adv":0},{"ber":-2,"d":125,"adv":0},{"ber":-2,"d":150,"adv":0},{"ber":-2,"d":175,"adv":0},{"ber":-2,"d":200,"adv":0},{"ber":-2,"d":225,"adv":0},{"ber":-2,"d":250,"adv":0},{"ber":-2,"d":275,"adv":0},{"ber":-2,"d":300,"adv":0},{"ber":-2,"d":325,"adv":0},
      {"ber":-2,"d":350,"adv":0.003},{"ber":-2,"d":375,"adv":0.01},{"ber":-2,"d":400,"adv":0.03},{"ber":-2,"d":425,"adv":0.07},{"ber":-2,"d":450,"adv":0.13},{"ber":-2,"d":475,"adv":0.24},{"ber":-2,"d":500,"adv":0.36},{"ber":-2,"d":525,"adv":0.46},{"ber":-2,"d":550,"adv":0.55},{"ber":-2,"d":575,"adv":0.63},{"ber":-2,"d":600,"adv":0.7},{"ber":-2,"d":625,"adv":0.76},{"ber":-2,"d":650,"adv":0.81},{"ber":-2,"d":675,"adv":0.86},{"ber":-2,"d":700,"adv":0.89},{"ber":-2,"d":725,"adv":0.92},{"ber":-2,"d":750,"adv":0.94},{"ber":-2,"d":775,"adv":0.96}
    ]
  },
  "encoding": {
    "x": {"field": "px", "type": "quantitative", "scale": {"domain": [0, 830], "nice": false, "zero": false}, "axis": null},
    "y": {"field": "py", "type": "quantitative", "scale": {"domain": [622, 0], "nice": false, "zero": false}, "axis": null}
  },
  "layer": [
    {
      "data": {"name": "box"},
      "transform": [
        {"filter": "datum.g === 'grid'"},
        {"calculate": "411 + 338*(datum.ber+8)/6 - 274*(datum.d-100)/675", "as": "px"},
        {"calculate": "540 - 98*(datum.ber+8)/6 - 127*(datum.d-100)/675 - 265*datum.adv", "as": "py"},
        {"calculate": "411 + 338*(datum.ber2+8)/6 - 274*(datum.d2-100)/675", "as": "qx"},
        {"calculate": "540 - 98*(datum.ber2+8)/6 - 127*(datum.d2-100)/675 - 265*datum.adv2", "as": "qy"}
      ],
      "mark": {"type": "rule", "color": "#dcdcdc", "strokeWidth": 1.4},
      "encoding": {"x2": {"field": "qx"}, "y2": {"field": "qy"}}
    },
    {
      "data": {"name": "box"},
      "transform": [
        {"filter": "datum.g === 'axis'"},
        {"calculate": "411 + 338*(datum.ber+8)/6 - 274*(datum.d-100)/675", "as": "px"},
        {"calculate": "540 - 98*(datum.ber+8)/6 - 127*(datum.d-100)/675 - 265*datum.adv", "as": "py"},
        {"calculate": "411 + 338*(datum.ber2+8)/6 - 274*(datum.d2-100)/675", "as": "qx"},
        {"calculate": "540 - 98*(datum.ber2+8)/6 - 127*(datum.d2-100)/675 - 265*datum.adv2", "as": "qy"}
      ],
      "mark": {"type": "rule", "color": "#262626", "strokeWidth": 1.3},
      "encoding": {"x2": {"field": "qx"}, "y2": {"field": "qy"}}
    },
    {
      "data": {"name": "grid"},
      "transform": [
        {"calculate": "411 + 338*(datum.ber+8)/6 - 274*(datum.d-100)/675", "as": "px"},
        {"calculate": "540 - 98*(datum.ber+8)/6 - 127*(datum.d-100)/675 - 265*datum.adv", "as": "py"}
      ],
      "layer": [
        {
          "transform": [
            {"window": [{"op": "lead", "field": "adv", "as": "an"}], "groupby": ["ber"], "sort": [{"field": "d", "order": "ascending"}]},
            {"filter": "datum.an === 0 && datum.ber < -2.05"},
            {"calculate": "411 + 338*(datum.ber+8.1)/6 - 274*(datum.d-87.5)/675", "as": "px"},
            {"calculate": "540 - 98*(datum.ber+8.1)/6 - 127*(datum.d-87.5)/675", "as": "py"}
          ],
          "mark": {"type": "point", "shape": "M-0.051,0.362L0.973,0.065L0.051,-0.362L-0.973,-0.065Z", "filled": true, "size": 510, "color": "#f35ef3", "opacity": 1, "strokeWidth": 0}
        },
        {
          "transform": [
            {"window": [{"op": "lead", "field": "px", "as": "qx"}, {"op": "lead", "field": "py", "as": "qy"}, {"op": "lead", "field": "adv", "as": "an"}], "groupby": ["d"], "sort": [{"field": "ber", "order": "ascending"}]},
            {"filter": "isValid(datum.qx)"},
            {"calculate": "(datum.adv + datum.an)/2", "as": "zm"}
          ],
          "mark": {"type": "rule", "strokeWidth": 1.8},
          "encoding": {
            "x2": {"field": "qx"},
            "y2": {"field": "qy"},
            "color": {
              "condition": {"test": "datum.zm === 0", "value": "#a436d6"},
              "field": "zm",
              "type": "quantitative",
              "scale": {"domain": [0, 0.15, 0.35, 0.55, 0.8, 1], "range": ["#302a88", "#3338b0", "#2b5fd8", "#1a7fe0", "#0fa6c6", "#2db5a0"], "interpolate": "rgb"},
              "legend": null
            }
          }
        },
        {
          "transform": [
            {"window": [{"op": "lead", "field": "px", "as": "qx"}, {"op": "lead", "field": "py", "as": "qy"}, {"op": "lead", "field": "adv", "as": "an"}], "groupby": ["ber"], "sort": [{"field": "d", "order": "ascending"}]},
            {"filter": "isValid(datum.qx)"},
            {"calculate": "(datum.adv + datum.an)/2", "as": "zm"}
          ],
          "mark": {"type": "rule", "strokeWidth": 1.8},
          "encoding": {
            "x2": {"field": "qx"},
            "y2": {"field": "qy"},
            "color": {
              "field": "zm",
              "type": "quantitative",
              "scale": {"domain": [0, 0.15, 0.35, 0.55, 0.8, 1], "range": ["#302a88", "#3338b0", "#2b5fd8", "#1a7fe0", "#0fa6c6", "#2db5a0"], "interpolate": "rgb"},
              "legend": null
            }
          }
        }
      ]
    },
    {
      "data": {"name": "labels"},
      "transform": [
        {"calculate": "411 + 338*(datum.ber+8)/6 - 274*(datum.d-100)/675", "as": "px"},
        {"calculate": "540 - 98*(datum.ber+8)/6 - 127*(datum.d-100)/675 - 265*datum.adv", "as": "py"}
      ],
      "layer": [
        {
          "transform": [{"filter": "datum.g === 'zt'"}],
          "mark": {"type": "text", "font": "Liberation Serif", "fontSize": 32, "color": "#262626", "align": "right", "baseline": "middle", "dx": -30, "dy": -2},
          "encoding": {"text": {"field": "t"}}
        },
        {
          "transform": [{"filter": "datum.g === 'dt'"}],
          "mark": {"type": "text", "font": "Liberation Serif", "fontSize": 32, "color": "#262626", "align": "center", "baseline": "middle", "dx": -70, "dy": 25},
          "encoding": {"text": {"field": "t"}}
        },
        {
          "transform": [{"filter": "datum.g === 'bt'"}],
          "mark": {"type": "text", "font": "Liberation Serif", "fontSize": 32, "color": "#262626", "align": "center", "baseline": "middle", "dx": 31, "dy": 33},
          "encoding": {"text": {"field": "t"}}
        },
        {
          "transform": [{"filter": "datum.g === 'dT'"}],
          "mark": {"type": "text", "font": "Liberation Serif", "fontSize": 32, "color": "#262626", "align": "left", "baseline": "alphabetic", "dx": -234, "dy": 117},
          "encoding": {"text": {"field": "t"}}
        },
        {
          "transform": [{"filter": "datum.g === 'dS'"}],
          "mark": {"type": "text", "font": "Liberation Serif", "fontSize": 24, "color": "#262626", "align": "left", "baseline": "alphabetic", "dx": -188, "dy": 129},
          "encoding": {"text": {"field": "t"}}
        },
        {
          "transform": [{"filter": "datum.g === 'dU'"}],
          "mark": {"type": "text", "font": "Liberation Serif", "fontSize": 32, "color": "#262626", "align": "left", "baseline": "alphabetic", "dx": -114, "dy": 117},
          "encoding": {"text": {"field": "t"}}
        },
        {
          "transform": [{"filter": "datum.g === 'bT'"}],
          "mark": {"type": "text", "font": "Liberation Serif", "fontSize": 32, "color": "#262626", "align": "left", "baseline": "alphabetic", "dx": -8, "dy": 106},
          "encoding": {"text": {"field": "t"}}
        },
        {
          "transform": [{"filter": "datum.g === 'bS'"}],
          "mark": {"type": "text", "font": "Liberation Serif", "fontSize": 24, "color": "#262626", "align": "left", "baseline": "alphabetic", "dx": 47, "dy": 122},
          "encoding": {"text": {"field": "t"}}
        },
        {
          "transform": [{"filter": "datum.g === 'bU'"}],
          "mark": {"type": "text", "font": "Liberation Serif", "fontSize": 32, "color": "#262626", "align": "left", "baseline": "alphabetic", "dx": 85, "dy": 106},
          "encoding": {"text": {"field": "t"}}
        },
        {
          "transform": [{"filter": "datum.g === 'zT'"}],
          "mark": {"type": "text", "font": "Liberation Serif", "fontSize": 36, "fontStyle": "italic", "color": "#262626", "align": "center", "baseline": "middle", "angle": 270, "dx": 0, "dy": -113},
          "encoding": {"text": {"field": "t"}}
        },
        {
          "transform": [{"filter": "datum.g === 'title'"}],
          "mark": {"type": "text", "font": "Liberation Serif", "fontSize": 35, "fontWeight": "bold", "color": "#000000", "align": "center", "baseline": "alphabetic", "dx": 278, "dy": -111},
          "encoding": {"text": {"field": "t"}}
        }
      ]
    }
  ]
}
